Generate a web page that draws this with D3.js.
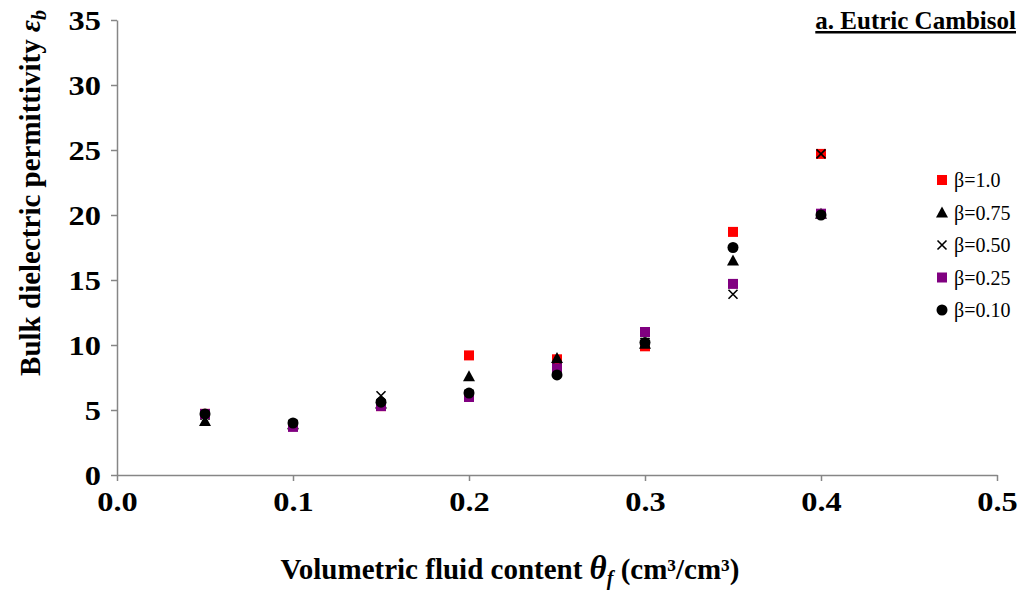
<!DOCTYPE html>
<html>
<head>
<meta charset="utf-8">
<script src="https://cdn.jsdelivr.net/npm/d3@7"></script>
<style>
  body { margin: 0; background: #fff; }
  svg { font-family: "Liberation Serif", "Times New Roman", serif; }
</style>
</head>
<body>
<svg id="chart" width="1021" height="590"></svg>
<script>
// fluid content (x) values
const theta = [0.05, 0.1, 0.15, 0.2, 0.25, 0.3, 0.35, 0.4]

// permittivity per beta
const beta100 = [4.7, 3.8, 5.3, 9.2, 8.9, 9.9, 18.7, 24.7]
const beta075 = [4.15, 3.9, 5.5, 7.6, 9.0, 10.1, 16.5, 20.1]
const beta050 = [4.6, 3.9, 6.1, 6.2, 8.3, 10.2, 13.9, 24.7]
const beta025 = [4.7, 3.7, 5.3, 6.0, 8.2, 11.0, 14.7, 20.1]
const beta010 = [4.7, 4.0, 5.6, 6.3, 7.7, 10.2, 17.5, 20.0]

const seriesNames = ['β=1.0', 'β=0.75', 'β=0.50', 'β=0.25', 'β=0.10']
const xTicks = [0, 0.1, 0.2, 0.3, 0.4, 0.5]
const yTicks = [0, 5, 10, 15, 20, 25, 30, 35]

const series = [
    { name: seriesNames[0], values: beta100, shape: 'square', color: '#ff0000' },
    { name: seriesNames[1], values: beta075, shape: 'triangle', color: '#000000' },
    { name: seriesNames[2], values: beta050, shape: 'cross', color: '#000000' },
    { name: seriesNames[3], values: beta025, shape: 'square', color: '#800080' },
    { name: seriesNames[4], values: beta010, shape: 'circle', color: '#000000' }
]

const svg = d3.select('#chart')
const plot = { left: 117, right: 997, top: 20, bottom: 475 }

const x = d3.scaleLinear().domain([0, 0.5]).range([plot.left, plot.right])
const y = d3.scaleLinear().domain([0, 35]).range([plot.bottom, plot.top])

const axisColor = '#868686'
const tickStretch = 1.2

const gx = svg.append('g')
    .attr('transform', `translate(0, ${plot.bottom})`)
    .call(d3.axisBottom(x).tickValues(xTicks).tickFormat(d3.format('.1f')).tickSize(6).tickSizeOuter(0))
gx.selectAll('text')
    .attr('font-size', 27).attr('font-weight', 'bold').attr('fill', '#000')
    .attr('font-family', 'Liberation Serif')
    .attr('y', 0).attr('dy', null)
    .attr('transform', `translate(0, 36) scale(${tickStretch}, 1)`)

const gy = svg.append('g')
    .attr('transform', `translate(${plot.left}, 0)`)
    .call(d3.axisLeft(y).tickValues(yTicks).tickSize(6).tickSizeOuter(0))
gy.selectAll('text')
    .attr('font-size', 27).attr('font-weight', 'bold').attr('fill', '#000')
    .attr('font-family', 'Liberation Serif')
    .attr('x', 0).attr('dy', null)
    .attr('transform', `translate(-16, 9) scale(${tickStretch}, 1)`)

svg.selectAll('.domain, .tick line').attr('stroke', axisColor).attr('stroke-width', 1.5)

function drawMarker(g, shape, color, cx, cy) {
    if (shape === 'square') {
        g.append('rect').attr('x', cx - 5).attr('y', cy - 5)
            .attr('width', 10).attr('height', 10).attr('fill', color)
    } else if (shape === 'triangle') {
        g.append('path')
            .attr('d', `M${cx},${cy - 6}L${cx + 6},${cy + 5}L${cx - 6},${cy + 5}Z`)
            .attr('fill', color)
    } else if (shape === 'circle') {
        g.append('circle').attr('cx', cx).attr('cy', cy).attr('r', 5.5).attr('fill', color)
    } else {
        g.append('path')
            .attr('d', `M${cx - 4.5},${cy - 4.5}L${cx + 4.5},${cy + 4.5}M${cx + 4.5},${cy - 4.5}L${cx - 4.5},${cy + 4.5}`)
            .attr('stroke', color).attr('stroke-width', 1.6).attr('fill', 'none')
    }
}

const marks = svg.append('g')
series.forEach(s => {
    const g = marks.append('g')
    s.values.forEach((v, i) => drawMarker(g, s.shape, s.color, x(theta[i]), y(v)))
})

// legend
const legend = svg.append('g')
series.forEach((s, i) => {
    const ly = 180 + i * 32.5
    drawMarker(legend, s.shape, s.color, 942, ly)
    legend.append('text')
        .attr('x', 954).attr('y', ly + 7)
        .attr('font-size', 20)
        .text(s.name)
})

// title
svg.append('text')
    .attr('x', 1016).attr('y', 29)
    .attr('text-anchor', 'end')
    .attr('font-size', 25).attr('font-weight', 'bold')
    .attr('text-decoration', 'underline')
    .text('a. Eutric Cambisol')

// axis titles
const yTitle = svg.append('text')
    .attr('transform', 'translate(40, 193) rotate(-90)')
    .attr('text-anchor', 'middle')
    .attr('font-size', 29).attr('font-weight', 'bold')
yTitle.append('tspan').text('Bulk dielectric permittivity ')
yTitle.append('tspan').attr('font-style', 'italic').text('ε')
yTitle.append('tspan').attr('font-style', 'italic').attr('font-size', 20).attr('dy', 6).text('b')

const xTitle = svg.append('text')
    .attr('x', 510).attr('y', 579)
    .attr('text-anchor', 'middle')
    .attr('font-size', 29).attr('font-weight', 'bold')
xTitle.append('tspan').text('Volumetric fluid content ')
xTitle.append('tspan').attr('font-style', 'italic').attr('font-size', 33).text('θ')
xTitle.append('tspan').attr('font-style', 'italic').attr('font-size', 20).attr('dy', 6).text('f')
xTitle.append('tspan').attr('dy', -6).text(' (cm³/cm³)')
</script>
</body>
</html>
